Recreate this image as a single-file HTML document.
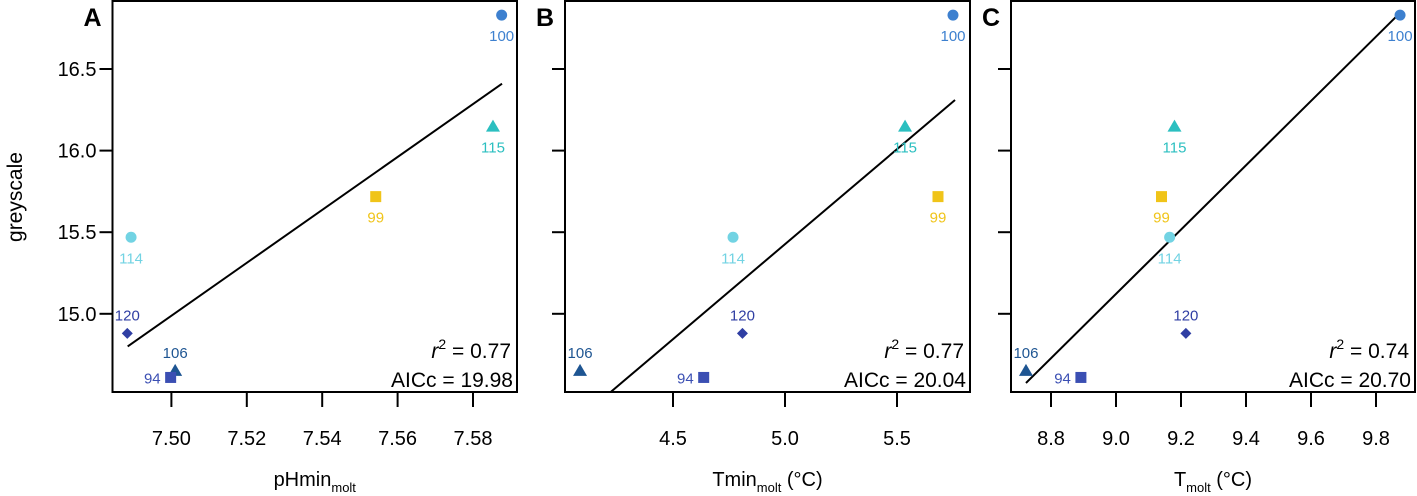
<!DOCTYPE html>
<html><head><meta charset="utf-8"><style>
html,body{margin:0;padding:0;background:#fff;}
svg{display:block;font-family:"Liberation Sans",Arial,sans-serif;}
</style></head><body>
<svg id="chart" width="1417" height="496" viewBox="0 0 1417 496"></svg>
<script>
const ids = ["100","115","99","114","120","106","94"];
const yVals = [16.83,16.147,15.718,15.469,14.88,14.65,14.61];
const xA = [7.5876,7.5853,7.5542,7.4893,7.4883,7.501,7.4998];
const xB = [5.75,5.536,5.683,4.768,4.81,4.085,4.637];
const xC = [9.874,9.18,9.14,9.165,9.215,8.723,8.892];
const colors = ["#3d80cf","#2bbfc0","#f0c419","#72d3e3","#2f3ea3","#1e5592","#3b4fb3"];
const shapes = ["circle","triangle","square","circle","diamond","triangle","square"];
const labelPos = ["below","below","below","below","above","above","left"];
const yTicks = [15.0,15.5,16.0,16.5];
const ticksA = [7.50,7.52,7.54,7.56,7.58];
const ticksB = [4.5,5.0,5.5];
const ticksC = [8.8,9.0,9.2,9.4,9.6,9.8];
const lineA = [[7.4884,14.80],[7.5877,16.41]];
const lineB = [[4.222,14.521],[5.759,16.31]];
const lineC = [[8.723,14.576],[9.872,16.84]];
const statsA = ["0.77","19.98"], statsB = ["0.77","20.04"], statsC = ["0.74","20.70"];

const NS="http://www.w3.org/2000/svg";
const svg=document.getElementById('chart');
function mk(tag,attrs,parent){const e=document.createElementNS(NS,tag);for(const k in attrs)e.setAttribute(k,attrs[k]);(parent||svg).appendChild(e);return e;}
const Y=v=>69+(16.5-v)*163.2;

function panel(cfg){
  const g=mk('g',{});
  
  
  const X=v=>cfg.x0px+(v-cfg.x0)*cfg.scale;
  const box=mk('rect',{x:cfg.left,y:1,width:cfg.right-cfg.left,height:391,fill:'none',stroke:'#000','stroke-width':2},g);
  
  
  const lt=mk('text',{x:cfg.left-20,y:26,'font-size':25,'font-weight':'bold','text-anchor':'middle'},g);
  lt.textContent=cfg.letter;
  
  
  yTicks.forEach(t=>{
    const tk=mk('line',{x1:cfg.left-13,x2:cfg.left,y1:Y(t),y2:Y(t),stroke:'#000','stroke-width':2},g);
    
    
    if(cfg.yLabels){
      const tl=mk('text',{x:cfg.left-16,y:Y(t)+7,'font-size':20,'text-anchor':'end'},g);
      tl.textContent=t.toFixed(1);
      
      
    }
  });
  cfg.ticks.forEach(t=>{
    const tk=mk('line',{x1:X(t),x2:X(t),y1:392,y2:407,stroke:'#000','stroke-width':2},g);
    
    
    const tl=mk('text',{x:X(t),y:445,'font-size':20,'text-anchor':'middle'},g);
    tl.textContent=t.toFixed(cfg.dec);
    
    
  });
  const ln=mk('line',{x1:X(cfg.line[0][0]),y1:Y(cfg.line[0][1]),x2:X(cfg.line[1][0]),y2:Y(cfg.line[1][1]),stroke:'#000','stroke-width':2},g);
  
  
  cfg.xs.forEach((xv,i)=>{
    const px=X(xv),py=Y(yVals[i]),c=colors[i];let m;
    if(shapes[i]==='circle')m=mk('circle',{cx:px,cy:py,r:5.5,fill:c},g);
    else if(shapes[i]==='square')m=mk('rect',{x:px-5.5,y:py-5.5,width:11,height:11,fill:c},g);
    else if(shapes[i]==='triangle')m=mk('polygon',{points:`${px},${py-7} ${px-7},${py+5} ${px+7},${py+5}`,fill:c},g);
    else m=mk('polygon',{points:`${px},${py-5.5} ${px+5.5},${py} ${px},${py+5.5} ${px-5.5},${py}`,fill:c},g);
    
    
    let lx=px,ly=py+26,anc='middle';
    if(labelPos[i]==='above'){ly=py-13;}
    if(labelPos[i]==='left'){lx=px-10;ly=py+6;anc='end';}
    const tl=mk('text',{x:lx,y:ly,'font-size':15,fill:c,'text-anchor':anc},g);
    tl.textContent=ids[i];
    
    
  });
  const r2=mk('text',{x:cfg.right-6,y:358,'font-size':21,'text-anchor':'end'},g);
  r2.innerHTML='<tspan font-style="italic">r</tspan><tspan dy="-9" font-size="14">2</tspan><tspan dy="9"> = '+cfg.stats[0]+'</tspan>';
  
  
  const ai=mk('text',{x:cfg.right-4,y:387,'font-size':21,'text-anchor':'end'},g);
  ai.textContent='AICc = '+cfg.stats[1];
  
  
  const xt=mk('text',{x:(cfg.left+cfg.right)/2,y:486,'font-size':20,'text-anchor':'middle'},g);
  xt.innerHTML=cfg.title;
  
  
}
panel({letter:'A',left:112.5,right:517,x0:7.50,x0px:171.4,scale:75.4/0.02,ticks:ticksA,dec:2,xs:xA,line:lineA,stats:statsA,yLabels:true,
  title:'pHmin<tspan dy="6" font-size="13">molt</tspan>'});
panel({letter:'B',left:565,right:970,x0:5.0,x0px:785,scale:224,ticks:ticksB,dec:1,xs:xB,line:lineB,stats:statsB,yLabels:false,
  title:'Tmin<tspan dy="6" font-size="13">molt</tspan><tspan dy="-6"> (°C)</tspan>'});
panel({letter:'C',left:1011,right:1415,x0:9.0,x0px:1116,scale:325,ticks:ticksC,dec:1,xs:xC,line:lineC,stats:statsC,yLabels:false,
  title:'T<tspan dy="6" font-size="13">molt</tspan><tspan dy="-6"> (°C)</tspan>'});
const yt=mk('text',{x:0,y:0,'font-size':21,'text-anchor':'middle',transform:'translate(22,197) rotate(-90)'});
yt.textContent='greyscale';


</script>
</body></html>
